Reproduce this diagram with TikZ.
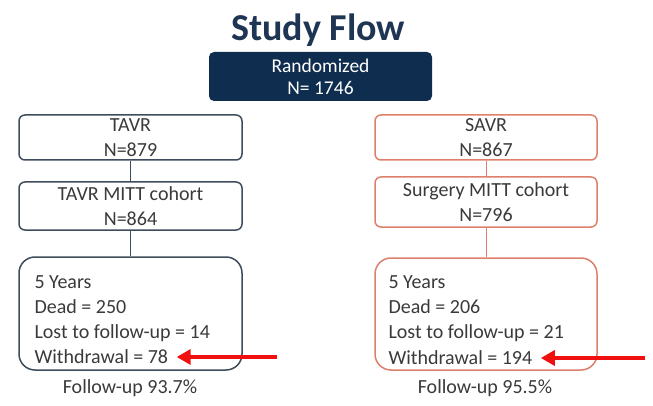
\documentclass[tikz,border=0pt]{standalone}
\usepackage{fontspec}
\setmainfont{Carlito}
\usetikzlibrary{arrows.meta}
\definecolor{navy}{HTML}{0F2D4E}
\definecolor{titlec}{HTML}{1E3553}
\definecolor{tavrc}{HTML}{3E4C5C}
\definecolor{savrc}{HTML}{DE7F6C}
\definecolor{txt}{HTML}{3A3A3A}
\definecolor{arrowred}{HTML}{F01010}
\begin{document}
\begin{tikzpicture}[x=1pt,y=-1pt,
  every node/.style={font=\fontsize{20}{25}\selectfont, text=txt},
  tbox/.style={draw=tavrc, line width=1.5pt, rounded corners=6pt, minimum width=223pt, align=center, inner sep=0pt},
  sbox/.style={draw=savrc, line width=1.5pt, rounded corners=6pt, minimum width=222pt, align=center, inner sep=0pt},
  link/.style={line width=1pt},
  redarrow/.style={draw=arrowred, line width=3.5pt, shorten >=5pt, -{Triangle[length=14pt,width=15pt]}}
]
\useasboundingbox (0,0) rectangle (653,406);
\node[font=\fontsize{38}{40}\bfseries, text=titlec] (title) at (318,30) {Study Flow};
\node[fill=navy, rounded corners=5pt, minimum width=223pt, minimum height=49pt, align=center, text=white, inner sep=0pt, font=\fontsize{19.5}{22}\selectfont] (rand) at (320.5,76.5) {Randomized\\N= 1746};

% TAVR side
\node[tbox, minimum height=45pt] (tavr) at (130.5,137.5) {TAVR\\N=879};
\node[tbox, minimum height=48pt] (tmitt) at (130.5,206) {TAVR MITT cohort\\N=864};
\node[tbox, rounded corners=16pt, minimum height=113pt] (t5) at (130.5,313.5) {};
\node[anchor=west] (t5a) at (31,282) {5 Years};
\node[anchor=west] (t5b) at (31,307) {Dead = 250};
\node[anchor=west] (t5c) at (31,333) {Lost to follow-up = 14};
\node[anchor=west] (t5d) at (31,357) {Withdrawal = 78};
\node (tfu) at (130,388) {Follow-up 93.7\%};
\draw[link, draw=tavrc] (tavr.south) -- (tmitt.north);
\draw[link, draw=tavrc] (tmitt.south) -- (t5.north);
\coordinate (ta) at (277,357);
\draw[redarrow] (ta) -- (t5d.east);

% SAVR side
\node[sbox, minimum height=45pt] (savr) at (486,137.5) {SAVR\\N=867};
\node[sbox, minimum height=50pt] (smitt) at (486,202) {Surgery MITT cohort\\N=796};
\node[sbox, rounded corners=16pt, minimum height=112pt] (s5) at (486,314) {};
\node[anchor=west] (s5a) at (385,282) {5 Years};
\node[anchor=west] (s5b) at (385,307) {Dead = 206};
\node[anchor=west] (s5c) at (385,333) {Lost to follow-up = 21};
\node[anchor=west] (s5d) at (385,358) {Withdrawal = 194};
\node (sfu) at (485,388) {Follow-up 95.5\%};
\draw[link, draw=savrc] (savr.south) -- (smitt.north);
\draw[link, draw=savrc] (smitt.south) -- (s5.north);
\coordinate (sa) at (645,358);
\draw[redarrow] (sa) -- (s5d.east);
\end{tikzpicture}
\end{document}
